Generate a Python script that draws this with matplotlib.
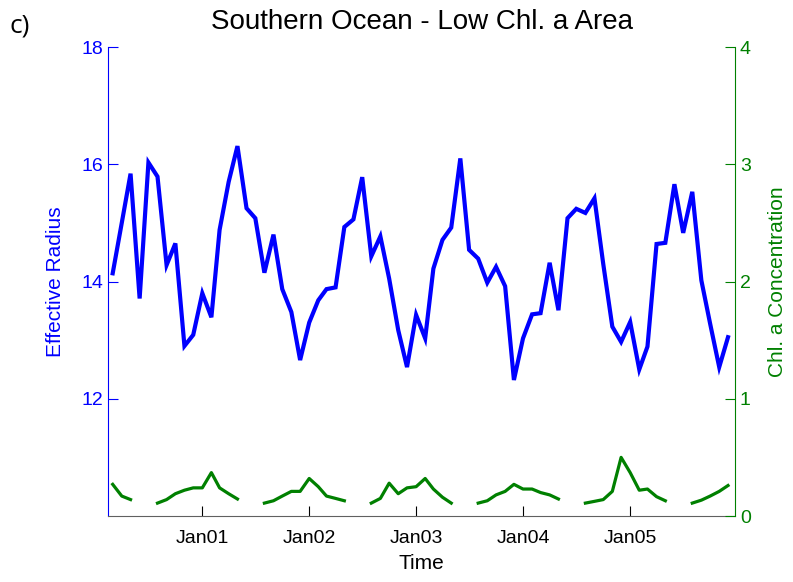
import numpy as np
import pandas as pd
import matplotlib
matplotlib.use("Agg")
import matplotlib.pyplot as plt
import matplotlib.dates as mdates

plt.rcParams["font.family"] = ["Liberation Sans", "DejaVu Sans"]

# monthly values, Mar 2000 .. Dec 2005
months = pd.date_range("2000-03-01", periods=70, freq="MS")

eff_radius = [
    14.14, 15.00, 15.84, 13.71, 16.03, 15.79, 14.28, 14.65, 12.90, 13.09,
    13.80, 13.39, 14.88, 15.70, 16.31, 15.25, 15.08, 14.15, 14.80, 13.87,
    13.48, 12.66, 13.30, 13.68, 13.87, 13.90, 14.93, 15.06, 15.78, 14.43,
    14.77, 14.05, 13.17, 12.54, 13.43, 13.03, 14.22, 14.71, 14.92, 16.10,
    14.54, 14.39, 13.98, 14.25, 13.92, 12.32, 13.03, 13.44, 13.46, 14.32,
    13.51, 15.08, 15.24, 15.17, 15.42, 14.30, 13.23, 12.97, 13.31, 12.50,
    12.89, 14.64, 14.66, 15.66, 14.83, 15.53, 14.02, 13.28, 12.54, 13.05,
]

nan = np.nan
chl_a = [
    0.27, 0.17, 0.14, nan, nan, 0.11, 0.14, 0.19, 0.22, 0.24,
    0.24, 0.37, 0.24, 0.19, 0.145, nan, nan, 0.11, 0.13, 0.17,
    0.21, 0.21, 0.32, 0.25, 0.17, 0.15, 0.13, nan, nan, 0.11,
    0.15, 0.28, 0.19, 0.24, 0.25, 0.32, 0.23, 0.16, 0.11, nan,
    nan, 0.11, 0.13, 0.18, 0.21, 0.27, 0.23, 0.23, 0.20, 0.18,
    0.145, nan, nan, 0.11, 0.125, 0.14, 0.21, 0.50, 0.37, 0.22,
    0.23, 0.165, 0.13, nan, nan, 0.11, 0.135, 0.17, 0.21, 0.26,
]

blue = "#0000ff"
green = "#008000"

fig = plt.figure(figsize=(7.93, 5.82), dpi=100)
ax = fig.add_axes([0.1362, 0.1134, 0.7907, 0.8058])
ax2 = ax.twinx()

ax.plot(months, eff_radius, color=blue, lw=3, solid_joinstyle="miter")
ax2.plot(months, chl_a, color=green, lw=2.3)

ax.set_xlim(pd.Timestamp("2000-02-14"), pd.Timestamp("2005-12-25"))
ax.set_ylim(10, 18)
ax.set_yticks([12, 14, 16, 18])
ax2.set_ylim(0, 4)
ax2.set_yticks([0, 1, 2, 3, 4])

ax.set_xticks([pd.Timestamp(f"{y}-01-01") for y in range(2001, 2006)])
ax.xaxis.set_major_formatter(mdates.DateFormatter("%b%y"))

for a in (ax, ax2):
    a.spines["top"].set_visible(False)
ax.spines["right"].set_visible(False)
ax.spines["left"].set_color(blue)
ax.spines["bottom"].set_color("#606060")
ax2.spines["left"].set_visible(False)
ax2.spines["bottom"].set_visible(False)
ax2.spines["right"].set_color(green)

ax.tick_params(axis="y", direction="in", length=7, colors=blue, labelsize=14)
ax.tick_params(axis="x", direction="in", length=7, color="black", labelsize=14, pad=10)
ax2.tick_params(axis="y", direction="in", length=7, colors=green, labelsize=14)

ax.set_xlabel("Time", fontsize=15, labelpad=5)
ax.set_ylabel("Effective Radius", color=blue, fontsize=15, labelpad=12)
ax2.set_ylabel("Chl. a Concentration", color=green, fontsize=15, labelpad=12)
ax.set_title("Southern Ocean - Low Chl. a Area", fontsize=20, pad=13)

fig.text(0.012, 0.955, "c)", fontsize=19, family="Open Sans", ha="left", va="center")

fig.savefig("out.png", dpi=100)
